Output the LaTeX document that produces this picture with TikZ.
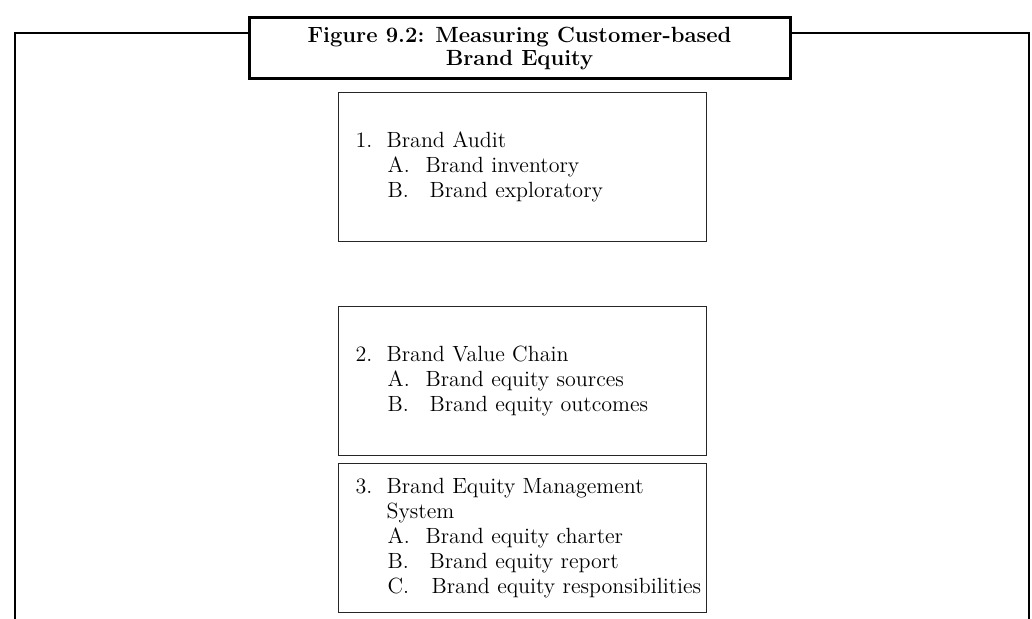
\documentclass[tikz,border=0pt]{standalone}
\newcommand{\numitem}[2]{\mbox{\makebox[15.5pt][l]{#1}#2}}
\newcommand{\letteritem}[3]{\mbox{\hspace*{16pt}\makebox[#1][l]{#2}#3}}
\begin{document}
\begin{tikzpicture}[x=0.5pt,y=-0.5pt,
  itembox/.style={draw=black!85,line width=0.6pt,minimum width=184pt,minimum height=74.5pt,
    text width=167pt,inner xsep=8.5pt,align=left,anchor=north west,
    font=\fontsize{11}{12.5}\selectfont},
  frameline/.style={line width=1.3pt}]
\useasboundingbox (0,0) rectangle (1032,619);
\node[draw,line width=1.5pt,minimum width=270.5pt,minimum height=30.5pt,inner sep=1pt,
  font=\bfseries\fontsize{11}{11.5}\selectfont,align=center] (title) at (519.5,48.5)
  {Figure 9.2: Measuring Customer-based\\Brand Equity};
\coordinate (tl) at (15,33);
\coordinate (bl) at (15,619);
\coordinate (tr) at (1029,33);
\coordinate (br) at (1029,619);
\draw[frameline] (bl) -- (tl) -- (tl -| title.west);
\draw[frameline] (br) -- (tr) -- (tr -| title.east);
\node[itembox] (audit) at (338,92) {\numitem{1.}{Brand Audit}\\
  \letteritem{19pt}{A.}{Brand inventory}\\
  \letteritem{21pt}{B.}{Brand exploratory}};
\node[itembox] (chain) at (338,306) {\numitem{2.}{Brand Value Chain}\\
  \letteritem{19pt}{A.}{Brand equity sources}\\
  \letteritem{21pt}{B.}{Brand equity outcomes}};
\node[itembox] (system) at (338,463) {\numitem{3.}{Brand Equity Management}\\
  \hspace*{15.5pt}System\\
  \letteritem{19pt}{A.}{Brand equity charter}\\
  \letteritem{21pt}{B.}{Brand equity report}\\
  \letteritem{22pt}{C.}{Brand equity responsibilities}};
\end{tikzpicture}
\end{document}
